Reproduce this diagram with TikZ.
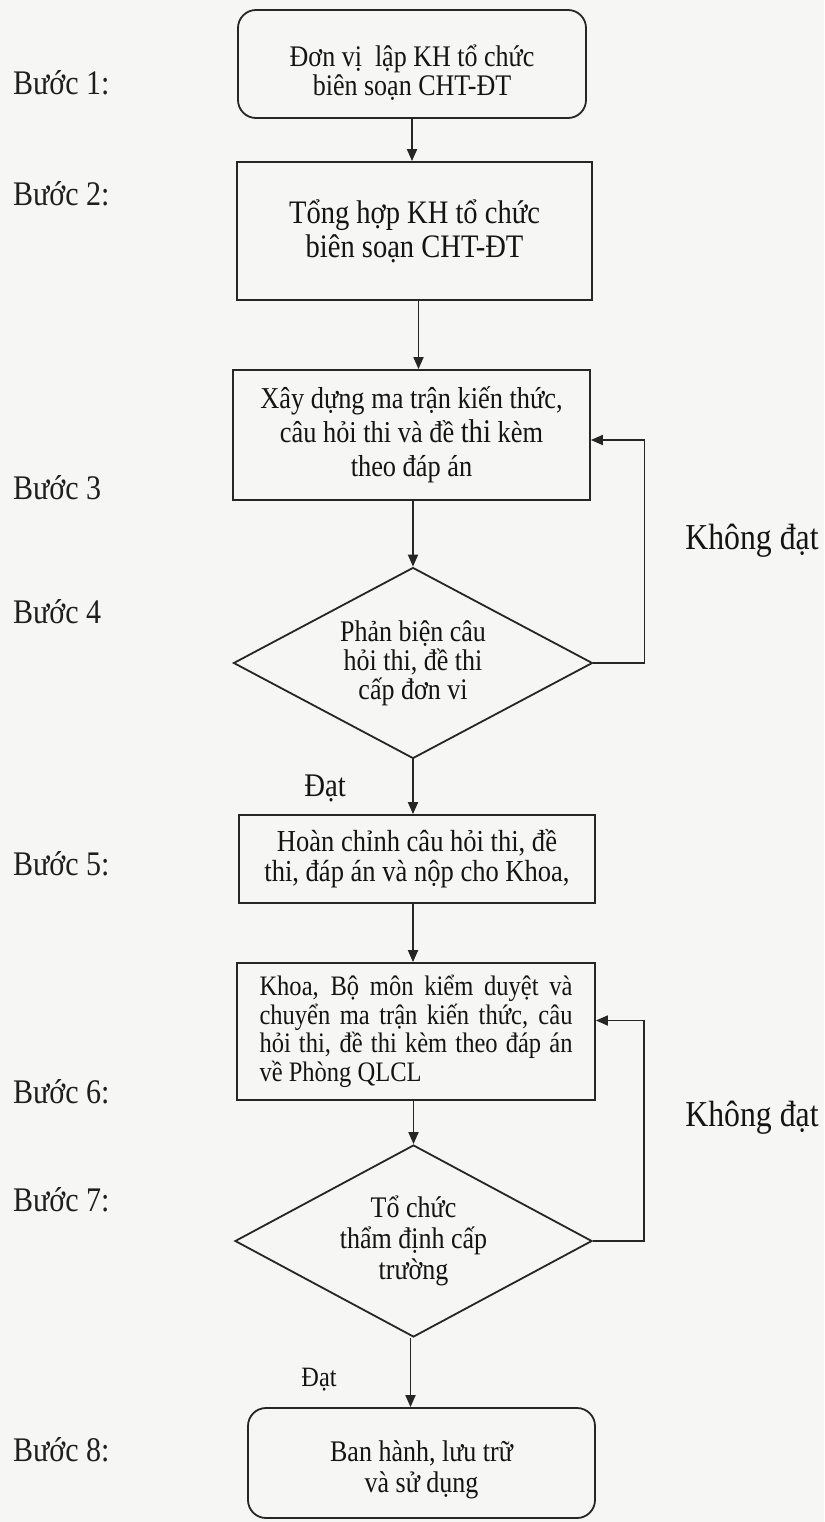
\documentclass[tikz,border=0pt]{standalone}
\usepackage{fontspec}
\setmainfont[FakeStretch=0.87]{Liberation Serif}
\usetikzlibrary{shapes.geometric,arrows.meta}
\definecolor{ink}{HTML}{262626}
\definecolor{paper}{HTML}{F6F6F4}
\newcommand{\lowered}[2]{\raisebox{-#1}[\height][\depth]{\begin{tabular}{@{}c@{}}#2\end{tabular}}}
\begin{document}
\begin{tikzpicture}[x=1pt,y=-1pt,
  box/.style={draw=ink, line width=1.8pt, align=center, inner sep=0pt, text=black!92},
  rbox/.style={box, rounded corners=18pt},
  dec/.style={draw=ink, line width=1.8pt, shape=diamond, aspect=1.88, inner sep=0pt, align=center, text=black!92},
  arr/.style={draw=ink, line width=1.8pt, -{Triangle[length=12pt,width=10pt]}},
  steplbl/.style={anchor=west, inner sep=0pt, text=black!88, font=\fontsize{34.5}{38}\selectfont},
  branch/.style={inner sep=0pt, text=black!92}]
\fill[paper] (0,0) rectangle (824,1522);
\useasboundingbox (0,0) rectangle (824,1522);

% step labels
\node[steplbl] (s1) at (13,83) {Bước 1:};
\node[steplbl] (s2) at (13,194) {Bước 2:};
\node[steplbl] (s3) at (13,488) {Bước 3};
\node[steplbl] (s4) at (13,612) {Bước 4};
\node[steplbl] (s5) at (13,864) {Bước 5:};
\node[steplbl] (s6) at (13,1092) {Bước 6:};
\node[steplbl] (s7) at (13,1200) {Bước 7:};
\node[steplbl] (s8) at (13,1450) {Bước 8:};

% boxes
\node[rbox, minimum width=348pt, minimum height=108pt, font=\fontsize{29.9}{28}\selectfont] (b1) at (412,64)
  {\lowered{10pt}{Đơn vị\ \ lập KH tổ chức\\biên soạn CHT-ĐT}};
\node[box, minimum width=355pt, minimum height=138pt, font=\fontsize{32.8}{34}\selectfont] (b2) at (414.5,231)
  {Tổng hợp KH tổ chức\\biên soạn CHT-ĐT};
\node[box, minimum width=357pt, minimum height=130pt, font=\fontsize{30.3}{34}\selectfont] (b3) at (411.5,435)
  {Xây dựng ma trận kiến thức,\\câu hỏi thi và đề {\fontsize{33}{34}\selectfont thi} kèm\\theo đáp án};
\node[dec, minimum width=359pt, minimum height=191pt, font=\fontsize{29.9}{29}\selectfont] (d4) at (413,663)
  {Phản biện câu\\hỏi thi, đề thi\\cấp đơn vi};
\node[box, minimum width=356pt, minimum height=88pt, font=\fontsize{30.5}{30}\selectfont] (b5) at (417,859)
  {Hoàn chỉnh câu hỏi thi, đề\\thi, đáp án và nộp cho Khoa,};
\node[box, minimum width=358pt, minimum height=137pt, text width=313pt, align=justify, font=\fontsize{28.2}{28.5}\selectfont] (b6) at (416,1031.5)
  {Khoa, Bộ môn kiểm duyệt và\linebreak chuyển ma trận kiến thức, câu\linebreak hỏi thi, đề thi kèm theo đáp án\linebreak về Phòng QLCL};
\node[dec, minimum width=357pt, minimum height=192pt, font=\fontsize{29.9}{31}\selectfont] (d7) at (413.5,1241)
  {Tổ chức\\thẩm định cấp\\trường};
\node[rbox, minimum width=347pt, minimum height=110pt, font=\fontsize{29.9}{31}\selectfont] (b8) at (421.5,1463)
  {\lowered{8pt}{Ban hành, lưu trữ\\và sử dụng}};

% branch labels
\node[branch, font=\fontsize{36.5}{40}\selectfont] (nd1) at (752,541) {Không đạt};
\node[branch, font=\fontsize{36.5}{40}\selectfont] (nd2) at (752,1118) {Không đạt};
\node[branch, font=\fontsize{33}{36}\selectfont] (ok1) at (325,788) {Đạt};
\node[branch, font=\fontsize{28}{30}\selectfont] (ok2) at (319,1380) {Đạt};

% main flow
\draw[arr] (b1.south) -- (b1.south |- b2.north);
\draw[arr] ([xshift=4pt]b2.south) -- ([xshift=4pt]b2.south |- b3.north);
\draw[arr] (b3.south -| d4.north) -- (d4.north);
\draw[arr] (d4.south) -- (d4.south |- b5.north);
\draw[arr] (b5.south -| d4.south) -- (d4.south |- b6.north);
\draw[arr] (b6.south -| d7.north) -- (d7.north);
\draw[arr] ([xshift=-3pt]d7.south) -- ([xshift=-3pt]d7.south |- b8.north);

% feedback loops
\draw[arr] (d4.east) -- ++(51,0) |- ([yshift=-5pt]b3.east);
\draw[arr] (d7.east) -- ++(51,0) |- ([yshift=11pt]b6.east);
\end{tikzpicture}
\end{document}
